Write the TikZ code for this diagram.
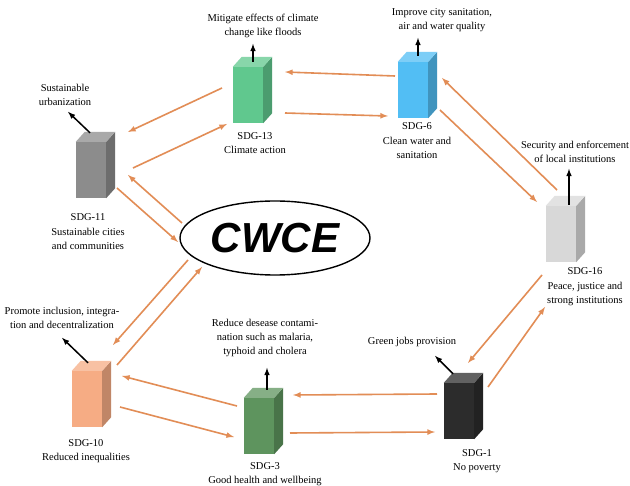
\documentclass[tikz,border=0pt]{standalone}
\usepackage{fontspec}
\setmainfont{Liberation Serif}
\newfontfamily\logofont{Liberation Sans}
\usepackage{tikz}
\usetikzlibrary{positioning,calc,shapes}
\definecolor{myorange}{RGB}{226,141,86}
\definecolor{mygreen}{RGB}{96,200,142}
\definecolor{myblue}{RGB}{82,190,244}
\definecolor{mygrey}{RGB}{140,140,140}
\definecolor{mylight}{RGB}{216,216,216}
\definecolor{mypeach}{RGB}{246,172,132}
\definecolor{mydark}{RGB}{94,148,94}
\definecolor{myblack}{RGB}{44,44,44}
\tikzstyle{sdgbox}=[minimum width=30pt,minimum height=56pt,inner sep=0pt]
\tikzstyle{sdgname}=[align=center,inner sep=0pt,font=\fontsize{10.5}{14.5}\selectfont]
\tikzstyle{goaltext}=[align=center,inner sep=0pt,font=\fontsize{10.5}{14}\selectfont]
\tikzstyle{flow}=[-latex,myorange,line width=1.6pt]
\tikzstyle{goal}=[-latex,black,line width=1.5pt]
% side and top faces of a box
\newcommand{\cubefaces}[2]{%
  \fill[#2!78!black] (#1.north east) -- ++(9,-10) -- ([shift={(9,-10)}]#1.south east) -- (#1.south east) -- cycle;
  \fill[#2!75!white] (#1.north west) -- ++(9,-10) -- ([shift={(9,-10)}]#1.north east) -- (#1.north east) -- cycle;
}

\begin{document}
\begin{tikzpicture}[x=1pt,y=-1pt]
\useasboundingbox[fill=white] (0,0) rectangle (630,486);

% boxes
\node (sdg13) [sdgbox,fill=mygreen] at (248,95) {};
\node (sdg6) [sdgbox,fill=myblue] at (413,90) {};
\node (sdg11) [sdgbox,fill=mygrey] at (91,170) {};
\node (sdg16) [sdgbox,fill=mylight] at (561,234) {};
\node (sdg10) [sdgbox,fill=mypeach] at (87,399) {};
\node (sdg3) [sdgbox,fill=mydark] at (259,426) {};
\node (sdg1) [sdgbox,fill=myblack] at (459,411) {};
\cubefaces{sdg13}{mygreen}
\cubefaces{sdg6}{myblue}
\cubefaces{sdg11}{mygrey}
\cubefaces{sdg16}{mylight}
\cubefaces{sdg10}{mypeach}
\cubefaces{sdg3}{mydark}
\cubefaces{sdg1}{myblack}

\node (cwce) [ellipse,draw,line width=1.4pt,minimum width=190pt,minimum height=74pt,inner sep=0pt,
  font=\logofont\bfseries\itshape\fontsize{42}{42}\selectfont] at (275,238) {CWCE};

% names
\node (n13) [sdgname] at (255,143) {SDG-13\\Climate action};
\node (n6) [sdgname] at (417,141) {SDG-6\\Clean water and\\sanitation};
\node (n11) [sdgname] at (88,232) {SDG-11\\Sustainable cities\\and communities};
\node (n16) [sdgname] at (585,287) {SDG-16\\Peace, justice and\\strong institutions};
\node (n10) [sdgname] at (86,451) {SDG-10\\Reduced inequalities};
\node (n3) [sdgname] at (265,474) {SDG-3\\Good health and wellbeing};
\node (n1) [sdgname] at (477,461) {SDG-1\\No poverty};

% goals
\node (g13) [goaltext] at (263,26) {Mitigate effects of climate\\change like floods};
\node (g6) [goaltext] at (442,20) {Improve city sanitation,\\air and water quality};
\node (g11) [goaltext] at (65,95) {Sustainable\\urbanization};
\node (g16) [goaltext] at (575,152) {Security and enforcement\\of local institutions};
\node (g10) [goaltext] at (62,318) {Promote inclusion, integra-\\tion and decentralization};
\node (g3) [goaltext] at (265,338) {Reduce desease contami-\\nation such as malaria,\\typhoid and cholera};
\node (g1) [goaltext] at (412,342) {Green jobs provision};

\draw[goal] ([shift={(5,-5)}]sdg13.north) -- ++(0,-18);
\draw[goal] ([shift={(5,-6)}]sdg6.north) -- ++(0,-18);
\draw[goal] ([shift={(-1,-9)}]sdg11.north) -- ++(-22,-21);
\draw[goal] ([shift={(8,-1)}]sdg16.north) -- ++(0,-36);
\draw[goal] ([shift={(1,-8)}]sdg10.north) -- ++(-26,-25);
\draw[goal] ([shift={(8,-8)}]sdg3.north) -- ++(0,-22);
\draw[goal] ([shift={(-6,-9)}]sdg1.north) -- ++(-18,-18);

% links
\draw[flow] ([shift={(-18,-14)}]sdg6.center) -- ([shift={(37,-23)}]sdg13.center);
\draw[flow] ([shift={(37,18)}]sdg13.center) -- ([shift={(-25,26)}]sdg6.center);
\draw[flow] ([shift={(-26,-7)}]sdg13.center) -- ([shift={(37,-38)}]sdg11.center);
\draw[flow] ([shift={(42,-2)}]sdg11.center) -- ([shift={(-21,29)}]sdg13.center);
\draw[flow] ([shift={(-93,-15)}]cwce.center) -- ([shift={(37,5)}]sdg11.center);
\draw[flow] ([shift={(26,18)}]sdg11.center) -- ([shift={(-97,4)}]cwce.center);
\draw[flow] ([shift={(-87,22)}]cwce.center) -- ([shift={(26,-54)}]sdg10.center);
\draw[flow] ([shift={(30,-34)}]sdg10.center) -- ([shift={(-73,29)}]cwce.center);
\draw[flow] ([shift={(-22,-20)}]sdg3.center) -- ([shift={(35,-23)}]sdg10.center);
\draw[flow] ([shift={(33,8)}]sdg10.center) -- ([shift={(-25,11)}]sdg3.center);
\draw[flow] ([shift={(-22,-17)}]sdg1.center) -- ([shift={(34,-31)}]sdg3.center);
\draw[flow] ([shift={(31,7)}]sdg3.center) -- ([shift={(-24,21)}]sdg1.center);
\draw[flow] ([shift={(-19,41)}]sdg16.center) -- ([shift={(9,-48)}]sdg1.center);
\draw[flow] ([shift={(29,-24)}]sdg1.center) -- ([shift={(-16,73)}]sdg16.center);
\draw[flow] ([shift={(-4,-44)}]sdg16.center) -- ([shift={(29,-12)}]sdg6.center);
\draw[flow] ([shift={(27,20)}]sdg6.center) -- ([shift={(-24,-32)}]sdg16.center);
\end{tikzpicture}
\end{document}
